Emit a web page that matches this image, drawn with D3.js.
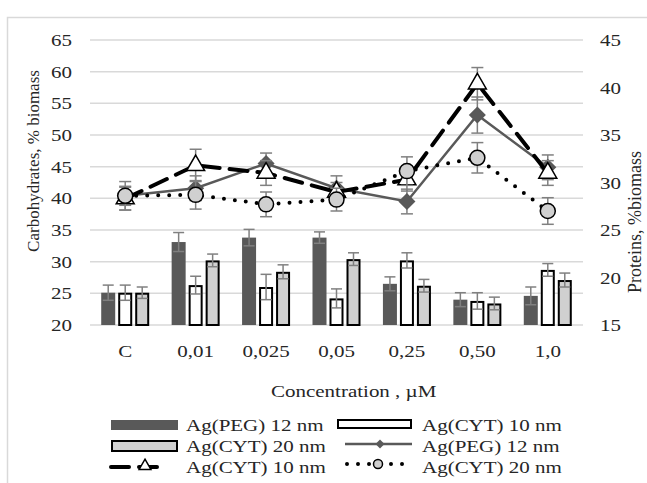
<!DOCTYPE html>
<html>
<head>
<meta charset="utf-8">
<script src="https://cdn.jsdelivr.net/npm/d3@7"></script>
<style>
  body { margin: 0; background: #fff; }
  svg { display: block; }
</style>
</head>
<body>
<div id="chart"></div>
<script>
// categories and tick labels
var categories = ["C", "0,01", "0,025", "0,05", "0,25", "0,50", "1,0"];
var leftTicks = [20, 25, 30, 35, 40, 45, 50, 55, 60, 65];
var rightTicks = [15, 20, 25, 30, 35, 40, 45];

// carbohydrates (bars, left axis)
var pegBar      = [25.1, 33.1, 33.8, 33.8, 26.5, 24.0, 24.6];
var pegBarErr   = [1.2, 1.5, 1.3, 0.9, 1.1, 1.1, 1.4];
var cyt10Bar    = [25.1, 26.3, 26.0, 24.2, 30.2, 23.8, 28.7];
var cyt10BarErr = [1.2, 1.4, 2.0, 1.5, 1.2, 1.3, 1.0];
var cyt20Bar    = [25.1, 30.2, 28.4, 30.4, 26.2, 23.4, 27.1];
var cyt20BarErr = [0.9, 1.0, 1.1, 1.0, 1.0, 1.0, 1.1];

// proteins (lines, right axis)
var pegLine      = [28.6, 29.4, 32.0, 29.4, 28.0, 37.1, 31.6];
var pegLineErr   = [1.0, 1.3, 1.1, 1.3, 1.3, 1.9, 1.3];
var cyt10Line    = [28.3, 31.8, 31.0, 29.0, 30.3, 40.4, 31.0];
var cyt10LineErr = [1.2, 1.7, 1.3, 1.0, 1.2, 1.7, 1.3];
var cyt20Line    = [28.6, 28.7, 27.7, 28.2, 31.2, 32.6, 27.0];
var cyt20LineErr = [1.5, 1.5, 1.3, 1.2, 1.5, 1.6, 1.4];

var width = 647, height = 483;
var plot = {left: 90, right: 583, top: 40, bottom: 325};
var FONT = "'Liberation Serif', 'Times New Roman', serif";
var TEXT_COLOR = "#262626";
var STRETCH = 1.2;   // the original figure is stretched sideways
var errColor = "#808080";

var svg = d3.select("#chart").append("svg")
    .attr("width", width)
    .attr("height", height);

// chart frame
svg.append("rect")
    .attr("x", 7.5).attr("y", 17.5)
    .attr("width", 700).attr("height", 500)
    .attr("fill", "none")
    .attr("stroke", "#d9d9d9")
    .attr("stroke-width", 1.5);

var xScale = d3.scaleBand()
    .domain(categories)
    .range([plot.left, plot.right]);

var xInner = d3.scaleBand()
    .domain(["peg", "cyt10", "cyt20"])
    .range([-24, 24])
    .paddingInner(3 / 17);

var yLeft = d3.scaleLinear().domain([20, 65]).range([plot.bottom, plot.top]);
var yRight = d3.scaleLinear().domain([15, 45]).range([plot.bottom, plot.top]);

function cx(c) { return xScale(c) + xScale.bandwidth() / 2; }

// stretched horizontal text
function hText(x, y, str, anchor) {
    return svg.append("text")
        .attr("transform", "translate(" + x + "," + y + ") scale(" + STRETCH + ",1)")
        .attr("text-anchor", anchor || "start")
        .style("font-family", FONT)
        .style("font-size", "17.5px")
        .attr("fill", TEXT_COLOR)
        .text(str);
}

// gridlines
svg.append("g").selectAll("line")
    .data(leftTicks).enter()
    .append("line")
    .attr("x1", plot.left).attr("x2", plot.right)
    .attr("y1", d => yLeft(d)).attr("y2", d => yLeft(d))
    .attr("stroke", "#d9d9d9")
    .attr("stroke-width", 1.5);

// axis labels (left / right / categories)
leftTicks.forEach(function(t) { hText(72, yLeft(t) + 6, t, "end"); });
rightTicks.forEach(function(t) { hText(600, yRight(t) + 6, t, "start"); });
categories.forEach(function(c) { hText(cx(c), 357, c, "middle"); });

svg.append("text")
    .attr("transform", "translate(39,161) rotate(-90)")
    .attr("text-anchor", "middle")
    .style("font-family", FONT)
    .style("font-size", "17px")
    .attr("fill", TEXT_COLOR)
    .text("Carbohydrates, % biomass");

svg.append("text")
    .attr("transform", "translate(641,222) rotate(-90)")
    .attr("text-anchor", "middle")
    .style("font-family", FONT)
    .style("font-size", "18px")
    .attr("fill", TEXT_COLOR)
    .text("Proteins, %biomass");

hText(271, 397, "Concentration , \u00b5M", "start");

// bars
var barSeries = [
    {key: "peg", values: pegBar, err: pegBarErr, fill: "#595959", stroke: "none"},
    {key: "cyt10", values: cyt10Bar, err: cyt10BarErr, fill: "#ffffff", stroke: "#000"},
    {key: "cyt20", values: cyt20Bar, err: cyt20BarErr, fill: "#d0d0d0", stroke: "#000"}
];

barSeries.forEach(function(s) {
    var g = svg.append("g");
    var rows = categories.map((c, i) => ({c: c, v: s.values[i], e: s.err[i]}));
    var bw = xInner.bandwidth();
    g.selectAll("rect")
        .data(rows).enter()
        .append("rect")
        .attr("x", d => cx(d.c) + xInner(s.key) + (s.stroke === "none" ? 0 : 1))
        .attr("y", d => yLeft(d.v) + (s.stroke === "none" ? 0 : 1))
        .attr("width", bw - (s.stroke === "none" ? 0 : 2))
        .attr("height", d => yLeft(20) - yLeft(d.v) - (s.stroke === "none" ? 0 : 1))
        .attr("fill", s.fill)
        .attr("stroke", s.stroke)
        .attr("stroke-width", 2);

    // error bars
    var eg = g.selectAll(".err").data(rows).enter().append("g");
    var mid = d => cx(d.c) + xInner(s.key) + bw / 2;
    eg.append("line")
        .attr("x1", mid).attr("x2", mid)
        .attr("y1", d => yLeft(d.v - d.e)).attr("y2", d => yLeft(d.v + d.e))
        .attr("stroke", errColor).attr("stroke-width", 1.5);
    [1, -1].forEach(function(sign) {
        eg.append("line")
            .attr("x1", d => mid(d) - 5.5).attr("x2", d => mid(d) + 5.5)
            .attr("y1", d => yLeft(d.v + sign * d.e)).attr("y2", d => yLeft(d.v + sign * d.e))
            .attr("stroke", errColor).attr("stroke-width", 1.5);
    });
});

// lines
var triangle = d3.symbol().type(d3.symbolTriangle).size(140);
var diamond = d3.symbol().type(d3.symbolSquare).size(112);
var circle = d3.symbol().type(d3.symbolCircle).size(177);

var lineSeries = [
    {values: pegLine, err: pegLineErr, stroke: "#595959", width: 2.5, dash: null, cap: "butt",
     marker: diamond, rot: 45, mfill: "#595959", mstroke: "#595959"},
    {values: cyt10Line, err: cyt10LineErr, stroke: "#000", width: 4, dash: "18,10", cap: "round",
     marker: triangle, rot: 0, mfill: "#fff", mstroke: "#000"},
    {values: cyt20Line, err: cyt20LineErr, stroke: "#000", width: 4, dash: "0,11", cap: "round",
     marker: circle, rot: 0, mfill: "#d0d0d0", mstroke: "#000"}
];

var lineGen = d3.line()
    .x(d => cx(d.c))
    .y(d => yRight(d.v));

lineSeries.forEach(function(s) {
    var rows = categories.map((c, i) => ({c: c, v: s.values[i], e: s.err[i]}));
    var g = svg.append("g");
    g.append("path")
        .attr("d", lineGen(rows))
        .attr("fill", "none")
        .attr("stroke", s.stroke)
        .attr("stroke-width", s.width)
        .attr("stroke-dasharray", s.dash)
        .attr("stroke-linecap", s.cap);

    var eg = g.selectAll(".err").data(rows).enter().append("g");
    eg.append("line")
        .attr("x1", d => cx(d.c)).attr("x2", d => cx(d.c))
        .attr("y1", d => yRight(d.v - d.e)).attr("y2", d => yRight(d.v + d.e))
        .attr("stroke", errColor).attr("stroke-width", 1.5);
    [1, -1].forEach(function(sign) {
        eg.append("line")
            .attr("x1", d => cx(d.c) - 6).attr("x2", d => cx(d.c) + 6)
            .attr("y1", d => yRight(d.v + sign * d.e)).attr("y2", d => yRight(d.v + sign * d.e))
            .attr("stroke", errColor).attr("stroke-width", 1.5);
    });

    g.selectAll(".mk").data(rows).enter()
        .append("path")
        .attr("d", s.marker())
        .attr("transform", d => "translate(" + cx(d.c) + "," + yRight(d.v) + ") rotate(" + s.rot + ")")
        .attr("fill", s.mfill)
        .attr("stroke", s.mstroke)
        .attr("stroke-width", 1.5);
});

// legend
var legend = svg.append("g");
var rowY = [425, 446, 467];

legend.append("rect")
    .attr("x", 111).attr("y", rowY[0] - 5).attr("width", 67).attr("height", 10)
    .attr("fill", "#595959");
hText(186, rowY[0] + 6, "Ag(PEG) 12 nm");

legend.append("rect")
    .attr("x", 112).attr("y", rowY[1] - 5).attr("width", 65).attr("height", 10)
    .attr("fill", "#d0d0d0").attr("stroke", "#000").attr("stroke-width", 2);
hText(186, rowY[1] + 6, "Ag(CYT) 20 nm");

legend.append("line")
    .attr("x1", 111).attr("x2", 167).attr("y1", rowY[2]).attr("y2", rowY[2])
    .attr("stroke", "#000").attr("stroke-width", 4)
    .attr("stroke-dasharray", "18,10").attr("stroke-linecap", "round");
legend.append("path")
    .attr("d", d3.symbol().type(d3.symbolTriangle).size(60)())
    .attr("transform", "translate(145," + (rowY[2] - 1) + ")")
    .attr("fill", "#fff").attr("stroke", "#000").attr("stroke-width", 1.5);
hText(186, rowY[2] + 6, "Ag(CYT) 10 nm");

legend.append("rect")
    .attr("x", 338).attr("y", rowY[0] - 5).attr("width", 73).attr("height", 8)
    .attr("fill", "#fff").attr("stroke", "#000").attr("stroke-width", 2);
hText(422, rowY[0] + 6, "Ag(CYT) 10 nm");

legend.append("line")
    .attr("x1", 345).attr("x2", 412).attr("y1", rowY[1] - 2).attr("y2", rowY[1] - 2)
    .attr("stroke", "#595959").attr("stroke-width", 2.5);
legend.append("path")
    .attr("d", d3.symbol().type(d3.symbolSquare).size(40)())
    .attr("transform", "translate(380," + (rowY[1] - 2) + ") rotate(45)")
    .attr("fill", "#595959");
hText(422, rowY[1] + 6, "Ag(PEG) 12 nm");

legend.append("line")
    .attr("x1", 347).attr("x2", 412).attr("y1", rowY[2] - 3).attr("y2", rowY[2] - 3)
    .attr("stroke", "#000").attr("stroke-width", 4)
    .attr("stroke-dasharray", "0,11").attr("stroke-linecap", "round");
legend.append("circle")
    .attr("cx", 378).attr("cy", rowY[2] - 3).attr("r", 4.5)
    .attr("fill", "#d0d0d0").attr("stroke", "#000").attr("stroke-width", 1.5);
hText(422, rowY[2] + 6, "Ag(CYT) 20 nm");
</script>
</body>
</html>
